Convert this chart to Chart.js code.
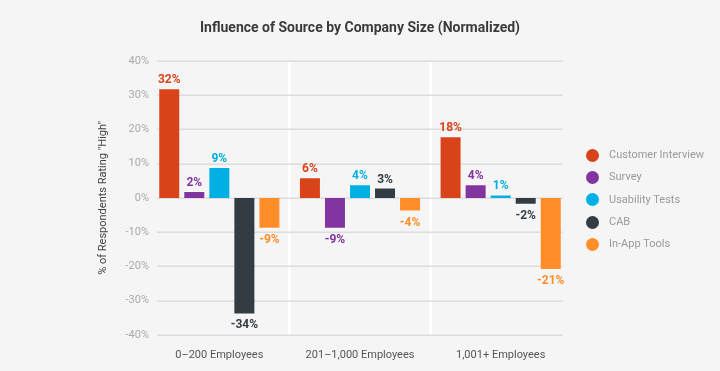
<!DOCTYPE html>
<html>
<head>
<meta charset="utf-8">
<script src="https://cdn.jsdelivr.net/npm/chart.js@4.4.1/dist/chart.umd.min.js"></script>
<style>
  html, body { margin: 0; padding: 0; background: #f5f5f5; }
  #wrap { width: 720px; height: 371px; position: relative; }
  #chart { display: block; }
  #legend { position: absolute; left: 586px; top: 144px; margin: 0; padding: 0; list-style: none;
            font: 11px Roboto, "DejaVu Sans", sans-serif; color: #9a9a9a; }
  #legend li { height: 22.3px; line-height: 22.3px; display: flex; align-items: center; white-space: nowrap; }
  #legend .dot { width: 13px; height: 13px; border-radius: 50%; margin-right: 10px; flex: none; }
</style>
</head>
<body>
<div id="wrap">
  <canvas id="chart" width="720" height="371"></canvas>
  <ul id="legend"></ul>
</div>
<script>
const categories = ['0\u2013200 Employees', '201\u20131,000 Employees', '1,001+ Employees'];
const seriesNames = ['Customer Interview', 'Survey', 'Usability Tests', 'CAB', 'In-App Tools'];
const customerInterview = [32, 6, 18];
const survey = [2, -9, 4];
const usabilityTests = [9, 4, 1];
const cab = [-34, 3, -2];
const inAppTools = [-9, -4, -21];
const yTicks = [-40, -30, -20, -10, 0, 10, 20, 30, 40];

const colors = ['#d8431a', '#8235a1', '#00b0e4', '#333c43', '#fe8d2a'];
const FONT = 'Roboto, "DejaVu Sans", sans-serif';

const seriesValues = [customerInterview, survey, usabilityTests, cab, inAppTools];

// horizontal grid lines, inset a little from the plot edges like the original
const insetGrid = {
    id: 'insetGrid',
    beforeDatasetsDraw(chart) {
        const {ctx, chartArea, scales: {y}} = chart;
        ctx.save();
        ctx.strokeStyle = '#dcdcdc';
        ctx.lineWidth = 1.5;
        y.ticks.forEach(t => {
            const py = Math.round(y.getPixelForValue(t.value)) + 0.25;
            ctx.beginPath();
            ctx.moveTo(chartArea.left + 8, py);
            ctx.lineTo(chartArea.right - 8, py);
            ctx.stroke();
        });
        ctx.restore();
    }
};

// value labels above / below each bar
const barLabels = {
    id: 'barLabels',
    afterDatasetsDraw(chart) {
        const ctx = chart.ctx;
        ctx.save();
        ctx.font = 'bold 12px ' + FONT;
        ctx.textAlign = 'center';
        chart.data.datasets.forEach((ds, i) => {
            const meta = chart.getDatasetMeta(i);
            meta.data.forEach((bar, j) => {
                const v = ds.data[j];
                ctx.fillStyle = colors[i];
                if (v >= 0) {
                    ctx.textBaseline = 'bottom';
                    ctx.fillText(v + '%', bar.x, bar.y - 2);
                } else {
                    ctx.textBaseline = 'top';
                    ctx.fillText(v + '%', bar.x, bar.y + 5);
                }
            });
        });
        ctx.restore();
    }
};

new Chart(document.getElementById('chart'), {
    type: 'bar',
    data: {
        labels: categories,
        datasets: seriesNames.map((name, i) => ({
            label: name,
            data: seriesValues[i],
            backgroundColor: colors[i],
            borderColor: 'rgba(255,255,255,0.55)',
            borderWidth: 1,
            categoryPercentage: 0.89,
            barPercentage: 0.88
        }))
    },
    options: {
        responsive: false,
        animation: false,
        layout: { padding: 0 },
        plugins: {
            title: {
                display: true,
                text: 'Influence of Source by Company Size (Normalized)',
                color: '#3a3a3a',
                font: { family: FONT, size: 14, weight: 'bold' },
                padding: { top: 20, bottom: 24 }
            },
            legend: { display: false },
            tooltip: { enabled: false }
        },
        scales: {
            x: {
                afterFit: (axis) => { axis.height = 36; },
                grid: {
                    offset: true,
                    drawTicks: false,
                    lineWidth: 3,
                    color: (c) => (c.index === 1 || c.index === 2) ? '#ffffff' : 'rgba(0,0,0,0)'
                },
                border: { display: false },
                ticks: { color: '#555', padding: 14, font: { family: FONT, size: 11 } }
            },
            y: {
                min: -40,
                max: 40,
                afterBuildTicks: (axis) => { axis.ticks = yTicks.map(v => ({ value: v })); },
                afterFit: (axis) => { axis.width = 149; },
                grid: { display: false, drawTicks: false },
                border: { display: false },
                ticks: {
                    color: '#aaaaaa',
                    padding: 0,
                    font: { family: FONT, size: 11 },
                    callback: (v) => v + '%'
                },
                title: {
                    display: true,
                    text: '% of Respondents Rating "High"',
                    color: '#444',
                    font: { family: FONT, size: 11 },
                    padding: { top: 97, bottom: 12 }
                }
            },
            // empty axis that reserves the space on the right for the legend
            legendSpace: {
                position: 'right',
                afterFit: (axis) => { axis.width = 149; },
                grid: { display: false, drawTicks: false },
                border: { display: false },
                ticks: { display: false }
            }
        }
    },
    plugins: [insetGrid, barLabels]
});

const legend = document.getElementById('legend');
seriesNames.forEach((name, i) => {
    const li = document.createElement('li');
    li.innerHTML = `<span class="dot" style="background:${colors[i]}"></span>${name}`;
    legend.appendChild(li);
});
</script>
</body>
</html>
